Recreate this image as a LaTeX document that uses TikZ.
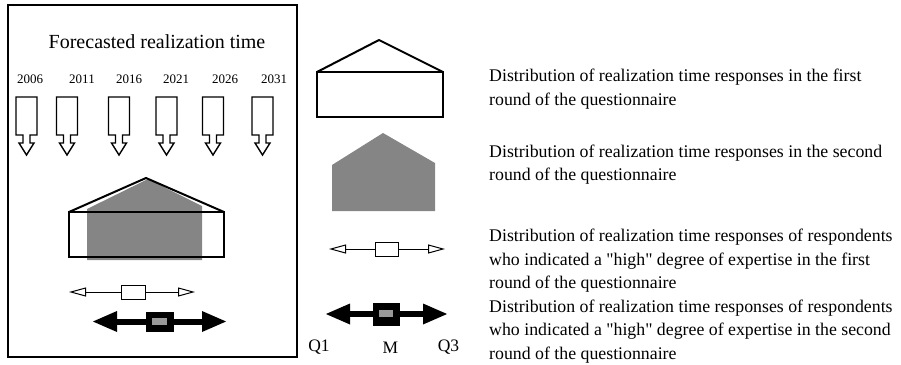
\documentclass[tikz,border=0pt]{standalone}
\usepackage{fontspec}
\setmainfont{Liberation Serif}[Ligatures=TeXOff]
\usetikzlibrary{arrows.meta}
\begin{document}
\begin{tikzpicture}[x=1pt,y=-1pt,
  desc/.style={anchor=base west, font=\fontsize{17.8}{20}\selectfont, inner sep=0pt},
  yr/.style={anchor=base, font=\fontsize{13}{15}\selectfont, inner sep=0pt},
  qlab/.style={anchor=base, font=\fontsize{17.5}{19}\selectfont, inner sep=0pt},
  shadefill/.style={fill=black!48, draw=none},
  outl/.style={draw=black, line width=1.4pt},
  roofline/.style={draw=black, line width=2pt, line join=round},
  blockarr/.style={draw=black, line width=1.4pt, line join=miter},
  thinbox/.style={draw=black, line width=1pt, fill=white, minimum width=24pt, minimum height=14pt, inner sep=0pt},
  boldbox/.style={draw=black, fill=black, inner sep=0pt},
  thinline/.style={line width=1pt, -{Triangle[open, length=17pt, width=9pt]}},
  boldline/.style={line width=6pt, -{Triangle[length=25pt, width=19pt]}}
]
\useasboundingbox (0,0) rectangle (901,364);

% left frame
\draw[line width=1.3pt] (8,5) rectangle (297,357);

\node[anchor=base, font=\fontsize{20}{24}\selectfont, inner sep=0pt] (title) at (157,48) {Forecasted realization time};

\node[yr] (y1) at (30,83) {2006};
\node[yr] (y2) at (82,83) {2011};
\node[yr] (y3) at (129,83) {2016};
\node[yr] (y4) at (176,83) {2021};
\node[yr] (y5) at (225,83) {2026};
\node[yr] (y6) at (274,83) {2031};

\foreach \c in {26.5,67,119,166.5,213,262.5}{
  \draw[blockarr] (\c-10.5,97) -- (\c+10.5,97) -- (\c+10.5,135) -- (\c+3.5,135) -- (\c+3.5,143)
    -- (\c+7.5,143) -- (\c,155) -- (\c-7.5,143) -- (\c-3.5,143) -- (\c-3.5,135) -- (\c-10.5,135) -- cycle;
}

% left combined house
\fill[shadefill] (148,179) -- (202,206) -- (202,260) -- (87,260) -- (87,209) -- cycle;
\draw[roofline] (69,212) -- (146,178) -- (224,212);
\draw[outl] (69,212) rectangle (224,257);

% left thin arrow
\node[thinbox] (lb1) at (133,292) {};
\coordinate (lt1l) at (69,292);
\coordinate (lt1r) at (195,292);
\draw[thinline] (lb1.west) -- (lt1l);
\draw[thinline] (lb1.east) -- (lt1r);

% left bold arrow
\node[boldbox, minimum width=27pt, minimum height=19pt] (lb2) at (159.5,321.5) {};
\node[fill=black!40, inner sep=0pt, minimum width=15pt, minimum height=7pt] (lg2) at (159.5,321.5) {};
\coordinate (lt2l) at (92,321.5);
\coordinate (lt2r) at (227,321.5);
\draw[boldline] (lb2.west) -- (lt2l);
\draw[boldline] (lb2.east) -- (lt2r);

% middle legend shapes
\draw[roofline] (317,72) -- (379,40) -- (443,72);
\draw[outl] (317,72) rectangle (443,117);
\fill[shadefill] (383,133) -- (435,163) -- (435,211) -- (332,211) -- (332,165) -- cycle;

\node[thinbox, minimum width=23pt] (mb1) at (386.5,249) {};
\coordinate (mt1l) at (329,249);
\coordinate (mt1r) at (445,249);
\draw[thinline] (mb1.west) -- (mt1l);
\draw[thinline] (mb1.east) -- (mt1r);

\node[boldbox, minimum width=26pt, minimum height=22pt] (mb2) at (386,314) {};
\node[fill=black!40, inner sep=0pt, minimum width=14pt, minimum height=7pt] (mg2) at (386,313.5) {};
\coordinate (mt2l) at (325,314);
\coordinate (mt2r) at (448,314);
\draw[boldline] (mb2.west) -- (mt2l);
\draw[boldline] (mb2.east) -- (mt2r);

\node[qlab] (q1) at (319,351) {Q1};
\node[qlab] (m) at (390.5,353) {M};
\node[qlab] (q3) at (448.5,351) {Q3};

% descriptions
\node[desc] (d1) at (489,81) {Distribution of realization time responses in the first};
\node[desc] (d2) at (489,105) {round of the questionnaire};
\node[desc] (d3) at (489,157) {Distribution of realization time responses in the second};
\node[desc] (d4) at (489,180) {round of the questionnaire};
\node[desc] (d5) at (489,241.5) {Distribution of realization time responses of respondents};
\node[desc] (d6) at (489,265) {who indicated a "high" degree of expertise in the first};
\node[desc] (d7) at (489,288.5) {round of the questionnaire};
\node[desc] (d8) at (489,312) {Distribution of realization time responses of respondents};
\node[desc] (d9) at (489,335.5) {who indicated a "high" degree of expertise in the second};
\node[desc] (d10) at (489,359) {round of the questionnaire};
\end{tikzpicture}
\end{document}
